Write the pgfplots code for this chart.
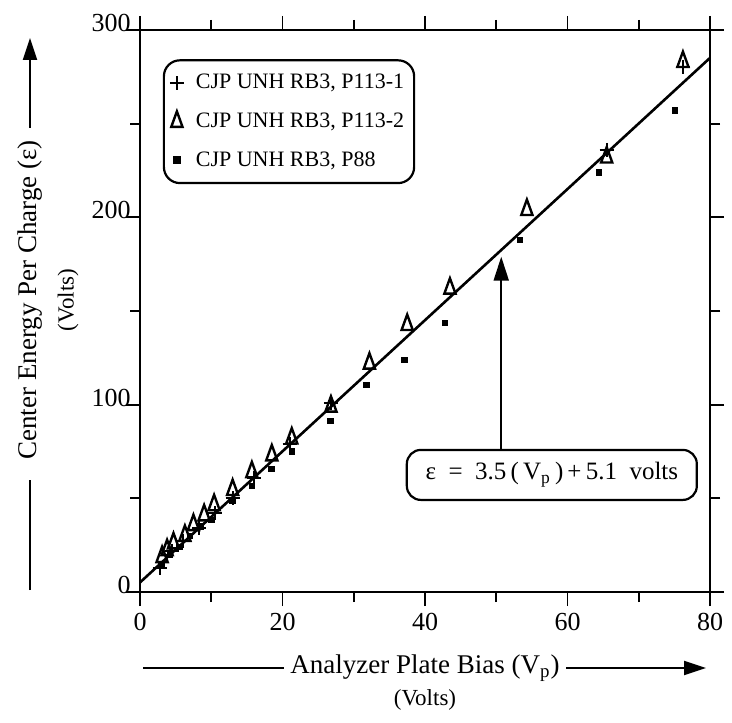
\documentclass[border=0pt]{standalone}
\usepackage{fontspec}
\setmainfont{Liberation Serif}
\usepackage{pgfplots}
\pgfplotsset{compat=1.18}
\usetikzlibrary{arrows.meta}

\begin{document}
\begin{tikzpicture}
\begin{axis}[
  scale only axis, width=285pt, height=281pt,
  xmin=0, xmax=80, ymin=0, ymax=300,
  xtick={0,20,40,60,80}, ytick={0,100,200,300},
  minor x tick num=1, minor y tick num=1,
  tick align=outside,
  major tick length=7pt, minor tick length=5pt,
  every tick/.style={black, line width=0.9pt},
  axis line style={line width=1pt},
  tick label style={font=\fontsize{13}{15}\selectfont},
  /pgf/number format/assume math mode=true,
  yticklabel style={anchor=east, yshift=3.5pt, xshift=3pt, inner sep=0.5pt},
  clip=false,
  legend style={at={(rel axis cs:0.04,0.948)}, anchor=north west,
    draw=black, line width=1.1pt, rounded corners=8pt,
    font=\fontsize{11}{13}\selectfont, row sep=6.5pt,
    inner xsep=3pt, inner ysep=5pt,
    /tikz/every odd column/.append style={column sep=4pt}},
  legend cell align=left,
]
% least squares fit
\addplot[no marks, line width=1.3pt, forget plot] coordinates {(0,5.1) (80,285.1)};

\addplot[only marks, mark=+, mark size=3.5pt, mark options={line width=1pt, sharp corners}]
  coordinates {(2.8,13) (4.5,22) (6,27) (8.3,34) (10.5,42) (13,50) (16,61) (21,79)
               (26.8,101) (65.5,236) (76.2,280)};
\addlegendentry{CJP UNH RB3, P113-1}

\addplot[only marks, mark=triangle, mark size=3.8pt,
  mark options={xscale=0.85, yscale=1.35, line width=1.2pt, fill=white, sharp corners}]
  coordinates {(3.1,18.7) (3.8,22.4) (4.7,26) (6.3,30) (7.5,35.8) (9,41) (10.4,46.4)
               (13,54.5) (15.7,64) (18.5,73) (21.3,82) (26.8,99) (32.2,122) (37.5,142.6)
               (43.5,162) (54.3,204) (65.5,232) (76.2,283)};
\addlegendentry{CJP UNH RB3, P113-2}

\addplot[only marks, mark=square*, mark size=1.4pt, mark options={sharp corners}]
  coordinates {(3,15) (4.2,20) (5.5,24) (7,30) (8.5,35) (10,38.4) (13,49) (15.7,56.6)
               (18.4,65.7) (21.3,75) (26.7,91.3) (31.8,110.5) (37.1,123.9) (42.8,143.6)
               (53.3,188) (64.4,224) (75.1,257)};
\addlegendentry{CJP UNH RB3, P88}

\draw[line width=1pt, -{Triangle[length=12pt,width=7.5pt]}] (axis cs:50.7,76) -- (axis cs:50.7,179);
\node[draw, line width=1.1pt, rounded corners=7pt, minimum width=145pt, minimum height=25pt,
  fill=white, font=\fontsize{12.5}{14}\selectfont] at (axis cs:57.8,62.5)
  {ε\enspace=\enspace3.5\,(\,V\textsubscript{p}\,)\,+\,5.1\enspace volts};
\end{axis}

% axis titles with arrows
\node[font=\fontsize{13.5}{15}\selectfont] at (142.5pt,-38pt) {Analyzer Plate Bias (V\textsubscript{p})};
\draw[line width=1pt] (1.5pt,-38pt) -- (72pt,-38pt);
\draw[line width=1pt, -{Triangle[length=11pt,width=7pt]}] (213pt,-38pt) -- (283pt,-38pt);
\node[font=\fontsize{11.5}{13}\selectfont] at (142.5pt,-54pt) {(Volts)};

\node[rotate=90, font=\fontsize{13.5}{15}\selectfont] at (-55pt,146pt) {Center Energy Per Charge (ε)};
\draw[line width=1pt] (-55pt,1pt) -- (-55pt,56pt);
\draw[line width=1pt, -{Triangle[length=11pt,width=7pt]}] (-55pt,232pt) -- (-55pt,277pt);
\node[rotate=90, font=\fontsize{11.5}{13}\selectfont] at (-36pt,146pt) {(Volts)};

\pgfresetboundingbox
\path (-70pt,-65pt) rectangle (296pt,296pt);
\end{tikzpicture}
\end{document}
